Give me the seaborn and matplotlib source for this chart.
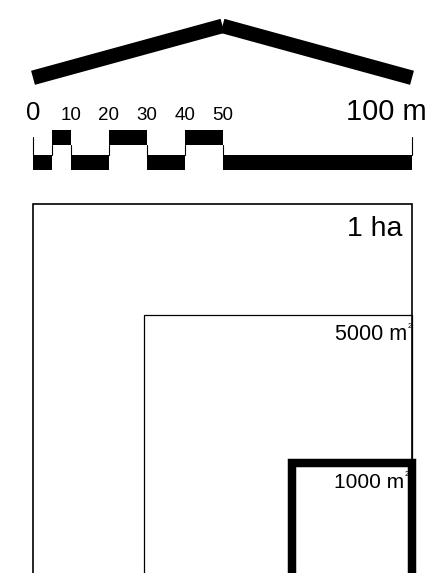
import matplotlib

matplotlib.use("Agg")
import matplotlib.pyplot as plt
import numpy as np
import seaborn as sns
from matplotlib.patches import Rectangle

# scale bar: segment edges in metres and whether each block sits high or low
SEGMENT_EDGES = [0, 5, 10, 20, 30, 40, 50, 100]
SEGMENT_HIGH = [False, True, False, True, False, True, False]
SCALE_LABEL_POS = [0, 10, 20, 30, 40, 50]
SCALE_LABELS = ["0", "10", "20", "30", "40", "50"]
END_LABEL = "100 m"

# roof outline above the scale (metres)
ROOF_X = [0, 50, 100]
ROOF_Y = [133.3, 147.0, 133.3]

# nested squares, anchored at the lower right corner of the 1 ha square
AREAS = [10000, 5000, 1000]
AREA_TEXT = ["1 ha", "5000 m", "1000 m"]
AREA_SUP = ["", "2", "2"]

PX_PER_M = 3.79
W, H = 429, 573
X0_PX, TOP_PX = 33, 204


def main() -> None:
    sns.set_theme(style="white")
    plt.rcParams["font.family"] = ["Liberation Sans", "DejaVu Sans"]

    fig = plt.figure(figsize=(W / 100, H / 100), dpi=100)
    ax = fig.add_axes([0, 0, 1, 1])
    ax.set_xlim(-X0_PX / PX_PER_M, (W - X0_PX) / PX_PER_M)
    ax.set_ylim(100 - (H - TOP_PX) / PX_PER_M, 100 + TOP_PX / PX_PER_M)
    ax.axis("off")

    # roof: two thick strokes meeting at the top
    for i in range(2):
        sns.lineplot(
            x=ROOF_X[i:i + 2], y=ROOF_Y[i:i + 2], ax=ax, color="black",
            linewidth=10.5, solid_capstyle="butt", sort=False, estimator=None,
        )

    # scale bar blocks
    high = (115.6, 119.5)
    low = (108.9, 112.9)
    edges = np.array(SEGMENT_EDGES, dtype=float)
    lefts = edges[:-1]
    widths = np.diff(edges)
    bottoms = [high[0] if h else low[0] for h in SEGMENT_HIGH]
    heights = [high[1] - high[0] if h else low[1] - low[0] for h in SEGMENT_HIGH]
    ax.bar(lefts, heights, width=widths, bottom=bottoms, align="edge",
           color="black", linewidth=0)
    for e in SEGMENT_EDGES[1:-1]:
        ax.plot([e, e], [low[1], high[0]], color="black", linewidth=0.8)
    for e in (SEGMENT_EDGES[0], SEGMENT_EDGES[-1]):
        ax.plot([e, e], [low[1], 117.8], color="black", linewidth=0.8)

    label_y = 122.2
    for pos, lab in zip(SCALE_LABEL_POS, SCALE_LABELS):
        size = 18.5 if pos == 0 else 13.5
        ax.text(pos, label_y, lab, ha="center", va="baseline", fontsize=size,
                color="black")
    ax.text(SEGMENT_EDGES[-1] - 17.4, label_y, END_LABEL, ha="left",
            va="baseline", fontsize=21, color="black")

    # nested squares
    styles = [(1.2, 20.5, 2.6, 8.4), (0.9, 15.5, 1.3, 6.6), (6.1, 15, 2.0, 6.6)]
    for area, txt, sup, (lw, fs, pad, drop) in zip(AREAS, AREA_TEXT, AREA_SUP, styles):
        side = np.sqrt(area)
        ax.add_patch(Rectangle((100 - side, 0), side, side, fill=False,
                               edgecolor="black", linewidth=lw))
        ty = side - drop
        ax.text(100 - pad, ty, txt, ha="right", va="baseline", fontsize=fs,
                color="black")
        if sup:
            ax.text(100 - pad + 0.1, ty + 3.2, sup, ha="left", va="baseline",
                    fontsize=5.5, color="black")

    fig.savefig("out.png", dpi=100)
    plt.close(fig)


if __name__ == "__main__":
    main()
